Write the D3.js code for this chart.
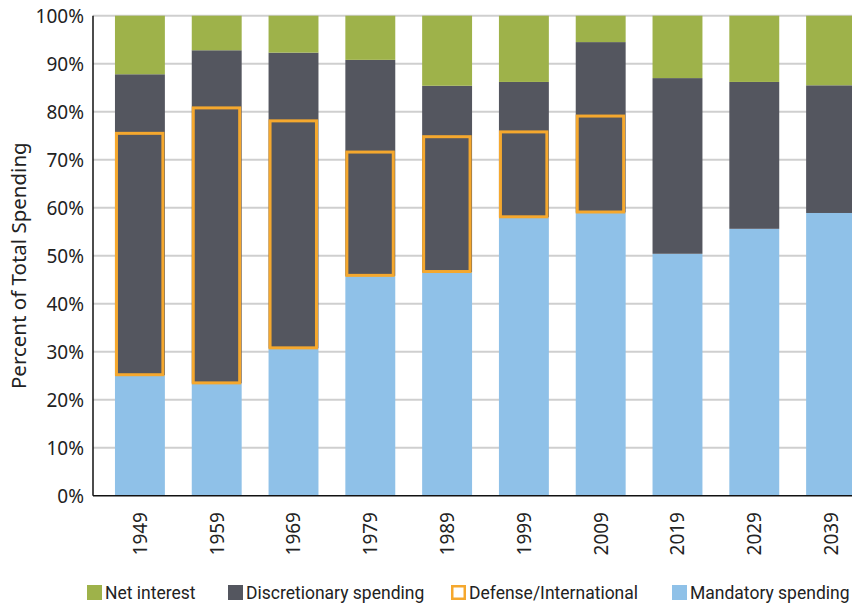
<!DOCTYPE html>
<html>
<head>
<meta charset="utf-8">
<script src="https://cdn.jsdelivr.net/npm/d3@7"></script>
<style>
  body { margin: 0; background: #fff; }
  text { font-family: "Noto Sans", sans-serif; fill: #222; }
</style>
</head>
<body>
<svg id="chart" width="852" height="607"></svg>
<script>
const years = ["1949", "1959", "1969", "1979", "1989", "1999", "2009", "2019", "2029", "2039"];
const mandatory = [25.1, 23.4, 30.7, 45.8, 46.6, 58.0, 59.0, 50.4, 55.6, 58.9];
const discretionary = [62.7, 69.4, 61.6, 45.0, 38.8, 28.2, 35.5, 36.6, 30.6, 26.6];
const net_interest = [12.2, 7.2, 7.7, 9.2, 14.6, 13.8, 5.5, 13.0, 13.8, 14.5];
const defense = [50.6, 57.6, 47.6, 26.0, 28.4, 18.0, 20.3, null, null, null];
const y_ticks = [0, 10, 20, 30, 40, 50, 60, 70, 80, 90, 100];

const colors = {
  mandatory: "#8fc1e8",
  discretionary: "#54565f",
  net_interest: "#9eb24a",
  defense: "#f5a82e"
};

const svg = d3.select("#chart");
const margin = {left: 93, top: 15.7, bottom: 495.7};

const rows = years.map((yr, i) => ({
  year: yr,
  mandatory: mandatory[i],
  discretionary: discretionary[i],
  net_interest: net_interest[i],
  defense: defense[i]
}));

const x = d3.scaleBand()
  .domain(years)
  .range([margin.left, margin.left + 785])
  .paddingInner(0.35)
  .paddingOuter(0.286);

const y = d3.scaleLinear()
  .domain([0, 100])
  .range([margin.bottom, margin.top]);

// gridlines
svg.append("g")
  .selectAll("line")
  .data(y_ticks.filter(d => d > 0))
  .join("line")
  .attr("x1", margin.left)
  .attr("x2", 852)
  .attr("y1", d => y(d))
  .attr("y2", d => y(d))
  .attr("stroke", "#cfcfcf")
  .attr("stroke-width", 2);

const keys = ["mandatory", "discretionary", "net_interest"];
const stacked = d3.stack().keys(keys)(rows);

svg.append("g")
  .selectAll("g")
  .data(stacked)
  .join("g")
  .attr("fill", d => colors[d.key])
  .selectAll("rect")
  .data(d => d)
  .join("rect")
  .attr("x", d => x(d.data.year))
  .attr("width", x.bandwidth())
  .attr("y", d => y(d[1]))
  .attr("height", d => y(d[0]) - y(d[1]));

// defense outline boxes
svg.append("g")
  .selectAll("rect")
  .data(rows.filter(d => d.defense !== null))
  .join("rect")
  .attr("x", d => x(d.year) + 1.5)
  .attr("width", x.bandwidth() - 3.5)
  .attr("y", d => y(d.mandatory + d.defense) + 1)
  .attr("height", d => y(d.mandatory) - y(d.mandatory + d.defense) - 1.5)
  .attr("fill", "none")
  .attr("stroke", colors.defense)
  .attr("stroke-width", 3);

// axes lines
svg.append("line")
  .attr("x1", margin.left).attr("x2", margin.left)
  .attr("y1", y(100)).attr("y2", y(0))
  .attr("stroke", "#111").attr("stroke-width", 1.5);
svg.append("line")
  .attr("x1", margin.left).attr("x2", 852)
  .attr("y1", y(0)).attr("y2", y(0))
  .attr("stroke", "#111").attr("stroke-width", 1.5);

// y tick labels
svg.append("g")
  .selectAll("text")
  .data(y_ticks)
  .join("text")
  .attr("x", 84)
  .attr("y", d => y(d))
  .attr("dy", "0.36em")
  .attr("text-anchor", "end")
  .style("font-size", "19px")
  .text(d => d + "%");

// x tick labels
svg.append("g")
  .selectAll("text")
  .data(years)
  .join("text")
  .attr("transform", d => `translate(${x(d) + x.bandwidth() / 2},512) rotate(-90)`)
  .attr("dy", "0.36em")
  .attr("text-anchor", "end")
  .style("font-size", "19px")
  .text(d => d);

// y axis title
svg.append("text")
  .attr("transform", `translate(19,${(y(0) + y(100)) / 2 + 10}) rotate(-90)`)
  .attr("dy", "0.36em")
  .attr("text-anchor", "middle")
  .style("font-size", "20.5px")
  .text("Percent of Total Spending");

// legend
const legend_items = [
  {label: "Net interest", color: colors.net_interest, x: 87},
  {label: "Discretionary spending", color: colors.discretionary, x: 228},
  {label: "Defense/International", color: colors.defense, x: 451, outline: true},
  {label: "Mandatory spending", color: colors.mandatory, x: 672}
];

const legend = svg.append("g")
  .selectAll("g")
  .data(legend_items)
  .join("g")
  .attr("transform", d => `translate(${d.x},585)`);

legend.append("rect")
  .attr("x", d => d.outline ? 1.25 : 0)
  .attr("y", d => d.outline ? 1.25 : 0)
  .attr("width", d => d.outline ? 12.5 : 15)
  .attr("height", d => d.outline ? 12.5 : 15)
  .attr("fill", d => d.outline ? "#fff" : d.color)
  .attr("stroke", d => d.outline ? d.color : "none")
  .attr("stroke-width", 2.5);

legend.append("text")
  .attr("x", 18)
  .attr("y", 7.5)
  .attr("dy", "0.36em")
  .style("font-family", "Roboto, sans-serif")
  .style("font-size", "17.5px")
  .text(d => d.label);
</script>
</body>
</html>
